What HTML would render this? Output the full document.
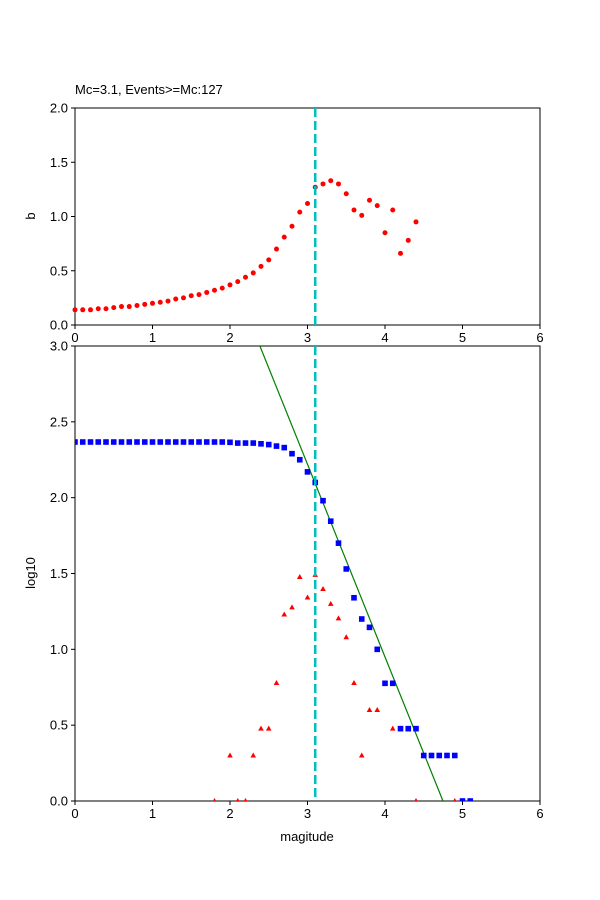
<!DOCTYPE html>
<html><head><meta charset="utf-8"><style>
body{margin:0;background:#fff}
svg{display:block;font-family:"Liberation Sans","DejaVu Sans",sans-serif}
</style></head><body>
<svg id="chart" width="600" height="900" viewBox="0 0 600 900"></svg>
<script>
const magBins = [0,0.1,0.2,0.3,0.4,0.5,0.6,0.7,0.8,0.9,1.0,1.1,1.2,1.3,1.4,1.5,1.6,1.7,1.8,1.9,2.0,2.1,2.2,2.3,2.4,2.5,2.6,2.7,2.8,2.9,3.0,3.1,3.2,3.3,3.4,3.5,3.6,3.7,3.8,3.9,4.0,4.1,4.2,4.3,4.4];
const bValues = [0.14,0.14,0.14,0.15,0.15,0.16,0.17,0.17,0.18,0.19,0.20,0.21,0.22,0.24,0.25,0.27,0.28,0.30,0.32,0.34,0.37,0.40,0.44,0.48,0.54,0.60,0.70,0.81,0.91,1.04,1.12,1.27,1.30,1.33,1.30,1.21,1.06,1.01,1.15,1.10,0.85,1.06,0.66,0.78,0.95];
const cumMags = [0,0.1,0.2,0.3,0.4,0.5,0.6,0.7,0.8,0.9,1.0,1.1,1.2,1.3,1.4,1.5,1.6,1.7,1.8,1.9,2.0,2.1,2.2,2.3,2.4,2.5,2.6,2.7,2.8,2.9,3.0,3.1,3.2,3.3,3.4,3.5,3.6,3.7,3.8,3.9,4.0,4.1,4.2,4.3,4.4,4.5,4.6,4.7,4.8,4.9,5.0,5.1];
const cumLog = [2.367,2.367,2.367,2.367,2.367,2.367,2.367,2.367,2.367,2.367,2.367,2.367,2.367,2.367,2.367,2.367,2.367,2.367,2.367,2.367,2.365,2.36,2.36,2.36,2.355,2.35,2.34,2.33,2.29,2.25,2.17,2.10,1.98,1.845,1.70,1.53,1.34,1.20,1.145,1.00,0.776,0.776,0.477,0.477,0.477,0.30,0.30,0.30,0.30,0.30,0,0];
const nonCumMags = [1.8,2.0,2.1,2.2,2.3,2.4,2.5,2.6,2.7,2.8,2.9,3.0,3.1,3.2,3.3,3.4,3.5,3.6,3.7,3.8,3.9,4.1,4.4,4.9];
const nonCumLog = [0,0.30,0,0,0.30,0.477,0.477,0.778,1.23,1.277,1.477,1.342,1.491,1.398,1.30,1.204,1.08,0.778,0.30,0.60,0.60,0.477,0,0];
const fitA = 6.03, fitB = 1.27, mc = 3.1;
const xTicks = [0,1,2,3,4,5,6];
const yTicksTop = [0,0.5,1.0,1.5,2.0];
const yTicksBot = [0,0.5,1.0,1.5,2.0,2.5,3.0];

const NS="http://www.w3.org/2000/svg";
const svg=document.getElementById('chart');
function mk(t,a,p){const e=document.createElementNS(NS,t);for(const k in a)e.setAttribute(k,a[k]);(p||svg).appendChild(e);return e;}
const L=75,R=540;
const X=v=>L+(R-L)*v/6;
const topY=v=>325-(325-108)*v/2;
const botY=v=>801-(801-346)*v/3;

function axes(name,top,bot,Y,yt,ylabel,ylabelY){
  const g=mk('g',{});
  
  
  mk('rect',{x:L,y:top,width:R-L,height:bot-top,fill:'none',stroke:'#000','stroke-width':1},g);
  xTicks.forEach(t=>{
    mk('line',{x1:X(t),x2:X(t),y1:bot,y2:bot+4,stroke:'#000'},g);
    const tx=mk('text',{x:X(t),y:bot+17,'text-anchor':'middle','font-size':13},g);tx.textContent=t;
    
    
  });
  yt.forEach(t=>{
    mk('line',{x1:L-4,x2:L,y1:Y(t),y2:Y(t),stroke:'#000'},g);
    const tx=mk('text',{x:L-7,y:Y(t)+4.5,'text-anchor':'end','font-size':13},g);tx.textContent=t.toFixed(1);
    
    
  });
  const yl=mk('text',{x:35,y:ylabelY,'text-anchor':'middle','font-size':13,transform:`rotate(-90 35 ${ylabelY})`},g);
  yl.textContent=ylabel;
  
  
  return g;
}

// top plot
axes('b-value-axes',108,325,topY,yTicksTop,'b',216);
const tt=mk('text',{x:75,y:94,'font-size':13});tt.textContent='Mc=3.1, Events>=Mc:127';


magBins.forEach((m,i)=>{
  const c=mk('circle',{cx:X(m),cy:topY(bValues[i]),r:2.5,fill:'red'});
  
  
});
const d1=mk('line',{x1:X(mc),x2:X(mc),y1:108,y2:325,stroke:'#00bfbf','stroke-width':2.5,'stroke-dasharray':'9,4'});



// bottom plot
axes('fmd-axes',346,801,botY,yTicksBot,'log10',573);
const xl=mk('text',{x:307,y:841,'text-anchor':'middle','font-size':13});xl.textContent='magitude';


const clip=mk('clipPath',{id:'cb'});mk('rect',{x:L,y:346,width:R-L,height:455},clip);
const m0=(fitA-3)/fitB, m1=fitA/fitB;
const fl=mk('line',{x1:X(m0),y1:botY(fitA-fitB*m0),x2:X(m1),y2:botY(fitA-fitB*m1),stroke:'green','stroke-width':1.2,'clip-path':'url(#cb)'});


cumMags.forEach((m,i)=>{
  const x=X(m),y=botY(cumLog[i]);
  const r=mk('rect',{x:x-2.8,y:y-2.8,width:5.6,height:5.6,fill:'blue','clip-path':'url(#cb)'});
  
  
});
nonCumMags.forEach((m,i)=>{
  const x=X(m),y=botY(nonCumLog[i]);
  const p=mk('polygon',{points:`${x},${y-3} ${x-2.8},${y+2} ${x+2.8},${y+2}`,fill:'red','clip-path':'url(#cb)'});
  
  
});
const d2=mk('line',{x1:X(mc),x2:X(mc),y1:346,y2:801,stroke:'#00bfbf','stroke-width':2.5,'stroke-dasharray':'9,4'});


</script>
</body></html>
